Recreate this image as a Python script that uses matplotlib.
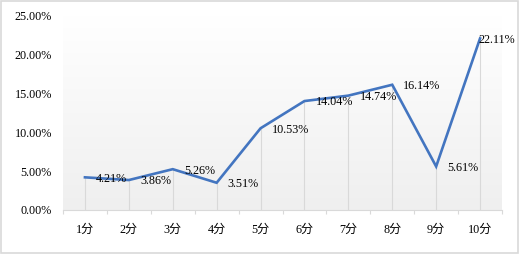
import matplotlib
matplotlib.use("Agg")
import matplotlib.pyplot as plt
import numpy as np
from matplotlib.patches import Rectangle
from matplotlib.colors import LinearSegmentedColormap

categories = ["1分", "2分", "3分", "4分", "5分", "6分", "7分", "8分", "9分", "10分"]
values = [4.21, 3.86, 5.26, 3.51, 10.53, 14.04, 14.74, 16.14, 5.61, 22.11]
yticks = [0, 5, 10, 15, 20, 25]

fam = ["Liberation Serif", "Noto Sans CJK SC"]

fig = plt.figure(figsize=(5.19, 2.54), dpi=100)
ax = fig.add_axes([63/519, 44/254, (502-63)/519, (210-16)/254])

x = np.arange(len(categories))
ax.set_xlim(-0.5, len(categories) - 0.5)
ax.set_ylim(0, 25)

# gradient background
grad = np.linspace(0, 1, 256).reshape(-1, 1)
cmap = LinearSegmentedColormap.from_list("g", ["#EFEFEF", "#FFFFFF"])
ax.imshow(grad, extent=[0, 1, 0, 1], transform=ax.transAxes, cmap=cmap,
          origin="lower", aspect="auto", zorder=0)

# drop lines
ax.vlines(x, 0, values, color="#D9D9D9", lw=0.8, zorder=1)
ax.plot(x, values, color="#4375C0", lw=1.9, zorder=3, solid_joinstyle="miter")

for i, v in enumerate(values):
    dx = 8
    if i == len(values) - 1:
        dx = -1
    ax.annotate(f"{v:.2f}%", (x[i], v), xytext=(dx, -1), textcoords="offset points",
                ha="left", va="center", fontsize=8.7, family=fam, color="#000000", zorder=4)

for s in ["top", "right", "left"]:
    ax.spines[s].set_visible(False)
ax.spines["bottom"].set_color("#D9D9D9")
ax.spines["bottom"].set_linewidth(0.8)

ax.set_yticks(yticks)
ax.set_yticklabels([f"{t:.2f}%" for t in yticks], family=fam, fontsize=8.7)
ax.tick_params(axis="y", length=0, pad=8)

ax.set_xticks(x)
ax.set_xticklabels(categories, family=fam, fontsize=8.7)
ax.set_xticks(np.arange(-0.5, len(categories)), minor=True)
ax.tick_params(axis="x", which="major", length=0, pad=10)
ax.tick_params(axis="x", which="minor", length=3, color="#D9D9D9", width=0.8)

fig.patches.append(Rectangle((0.002, 0.004), 0.996, 0.992, transform=fig.transFigure,
                             fill=False, edgecolor="#D9D9D9", lw=1.2))

fig.savefig("out.png", dpi=100)
